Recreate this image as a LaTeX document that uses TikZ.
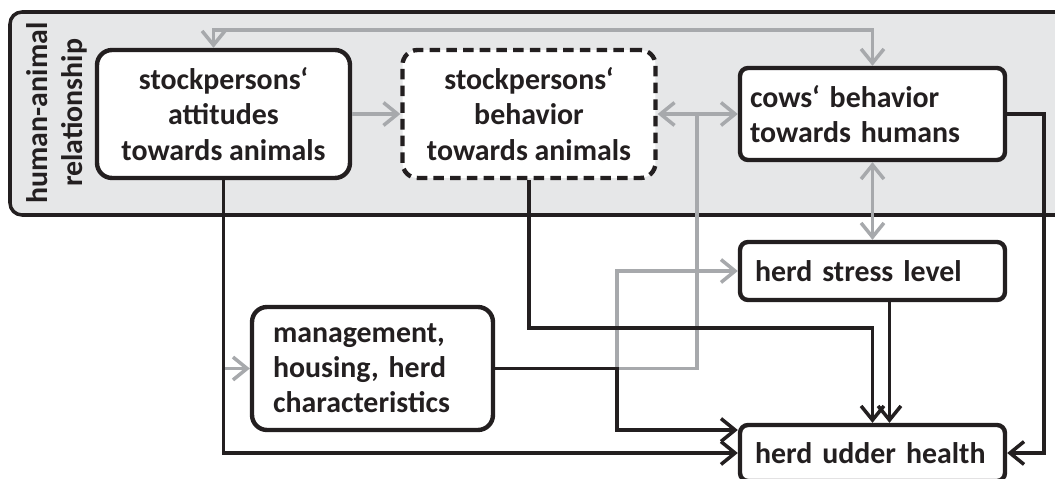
\documentclass[tikz,border=0pt]{standalone}
\usepackage{fontspec}
\setmainfont{Carlito}
\usetikzlibrary{arrows.meta}
\definecolor{hargray}{HTML}{A7A9AC}
\definecolor{harfill}{HTML}{E6E7E8}
\definecolor{harblack}{HTML}{231F20}
\begin{document}
\begin{tikzpicture}[x=0.02cm,y=-0.02cm,line join=miter,>={Straight Barb[length=8pt,width=13pt]},
  font=\fontsize{17}{20}\selectfont\bfseries,text=harblack,
  box/.style={draw=harblack,line width=2.5pt,fill=white,rounded corners=0.3cm,inner sep=0pt,align=center,minimum width=5.06cm,minimum height=2.56cm},
  lbox/.style={draw=harblack,line width=2.5pt,fill=white,rounded corners=0.16cm,inner xsep=0.3cm,inner ysep=0pt,align=left,text width=4.7cm},
  bcon/.style={draw=harblack,line width=2pt},
  gcon/.style={draw=hargray,line width=2pt}]
  \useasboundingbox (0,0) rectangle (1055,479);
  \clip (0,0) rectangle (1055,479);
  \draw[draw=harblack,fill=harfill,line width=2pt,rounded corners=0.24cm] (10,12) rectangle (1090,215);
  \node[rotate=90,align=center] (harlabel) at (57,113) {human-animal\\relationship};
  \node[box] (att) at (223.5,114) {stockpersons‘\\attitudes\\towards animals};
  \node[box,dash pattern=on 6pt off 3.5pt] (beh) at (529,114) {stockpersons‘\\behavior\\towards animals};
  \node[lbox,inner xsep=0.2cm,text width=4.9cm,minimum height=1.84cm] (cows) at (872.5,114) {cows‘ behavior\\towards humans};
  \node[lbox,minimum height=1.16cm] (stress) at (872.5,271) {herd stress level};
  \node[lbox,minimum height=1.12cm] (udder) at (872.5,453) {herd udder health};
  \node[lbox,rounded corners=0.3cm,inner xsep=0.42cm,text width=3.98cm,minimum height=2.46cm] (mgmt) at (372.5,368.5) {management,\\housing, herd\\characteristics};
  \coordinate (split) at (617,368.5);
  \coordinate (fork) at (697,114);
  \coordinate (rail) at (0,30);
  \coordinate (lane) at (0,328);
  \draw[gcon,<->] ([xshift=-0.2cm]att.north) |- (rail -| cows.north) -- (cows.north);
  \draw[gcon,->] (att.east) -- (beh.west);
  \draw[gcon,->] (split) |- (stress.west);
  \draw[gcon] (split) -| (fork);
  \draw[gcon,->] (fork) -- (beh.east);
  \draw[gcon,->] (fork) -- (cows.west);
  \draw[gcon,<->] (cows.south) -- (stress.north);
  \draw[gcon,->] (att.south |- mgmt.west) -- (mgmt.west);
  \draw[bcon,->] (att.south) |- (udder.west);
  \draw[bcon,->] (beh.south) |- (lane -| udder.north) -- (udder.north);
  \draw[bcon,->] ([xshift=0.34cm]stress.south) -- ([xshift=0.34cm]udder.north);
  \draw[bcon,->] (mgmt.east) -- (split) |- ([yshift=0.46cm]udder.west);
  \draw[bcon,->] (cows.east) -- ++(37,0) |- (udder.east);
\end{tikzpicture}
\end{document}
